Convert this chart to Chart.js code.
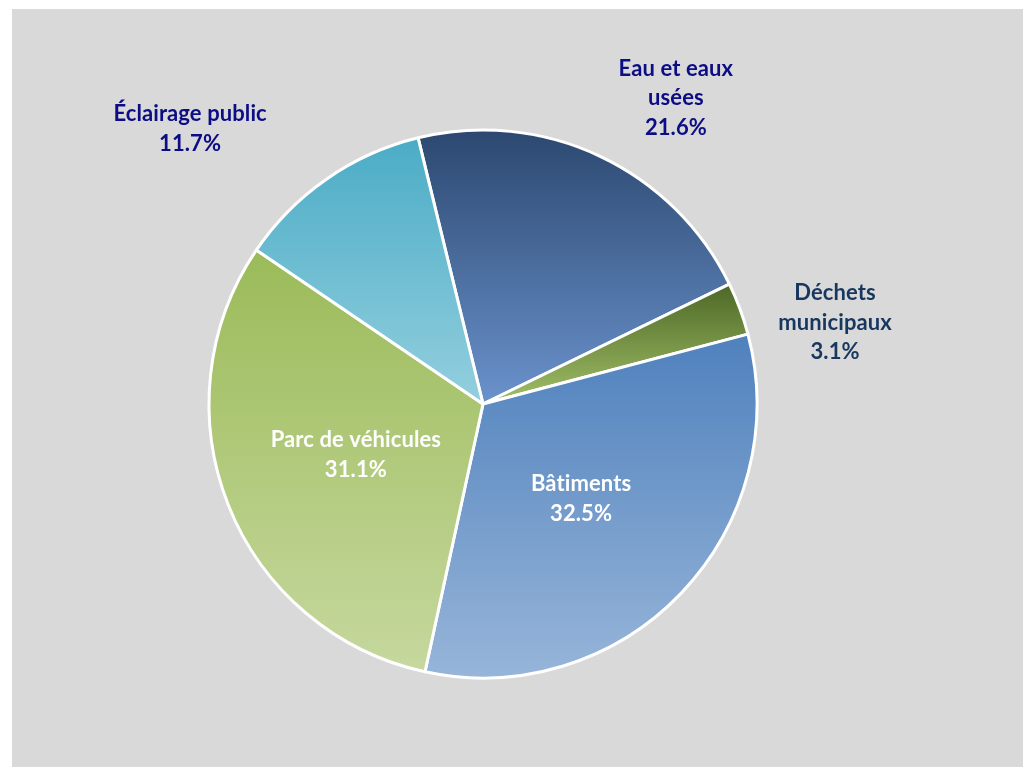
<!DOCTYPE html>
<html>
<head>
<meta charset="utf-8">
<script src="https://cdn.jsdelivr.net/npm/chart.js@4/dist/chart.umd.min.js"></script>
<style>
  html, body { margin: 0; padding: 0; background: #ffffff; }
  #wrap { width: 1025px; height: 767px; position: relative; }
</style>
</head>
<body>
<div id="wrap"><canvas id="c" width="1025" height="767"></canvas></div>
<script>
// Emission shares by sector (%)
const categories = ["Eau et eaux usées", "Déchets municipaux", "Bâtiments", "Parc de véhicules", "Éclairage public"];
const shares = [21.6, 3.1, 32.5, 31.1, 11.7];
// Label lines per slice
const labelLines = [
  ["Eau et eaux", "usées"],
  ["Déchets", "municipaux"],
  ["Bâtiments"],
  ["Parc de véhicules"],
  ["Éclairage public"]
];
// Vertical gradient stops for each slice (top, bottom)
const gradTop = ["#2c4870", "#4c6826", "#4f81bd", "#9bbb59", "#4bacc6"];
const gradBottom = ["#6a92cc", "#a2bf68", "#97b5d9", "#c6d89e", "#93cfde"];
// Label placement relative to the pie centre, in units of the radius
const labelOffsets = [[0.704, -1.117], [1.285, -0.296], [0.358, 0.347], [-0.464, 0.186], [-1.069, -1.004]];
const labelColors = ["#0c0c84", "#17375e", "#ffffff", "#ffffff", "#0c0c84"];

const panelBg = {
  id: "panelBg",
  beforeDraw(chart) {
    const ctx = chart.ctx;
    ctx.save();
    ctx.fillStyle = "#d9d9d9";
    ctx.fillRect(12, 9, 1011, 770);
    ctx.restore();
  }
};

// Per-slice vertical gradients spanning each arc's own vertical extent
const sliceGradients = {
  id: "sliceGradients",
  beforeDatasetsDraw(chart) {
    const meta = chart.getDatasetMeta(0);
    const ctx = chart.ctx;
    meta.data.forEach((arc, i) => {
      const { x, y, startAngle, endAngle, outerRadius } = arc.getProps(["x", "y", "startAngle", "endAngle", "outerRadius"], true);
      let ymin = y, ymax = y;
      const steps = 120;
      for (let k = 0; k <= steps; k++) {
        const a = startAngle + (endAngle - startAngle) * k / steps;
        const py = y + Math.sin(a) * outerRadius;
        ymin = Math.min(ymin, py);
        ymax = Math.max(ymax, py);
      }
      const g = ctx.createLinearGradient(0, ymin, 0, ymax);
      g.addColorStop(0, gradTop[i]);
      g.addColorStop(1, gradBottom[i]);
      arc.options.backgroundColor = g;
    });
  }
};

const sliceLabels = {
  id: "sliceLabels",
  afterDatasetsDraw(chart) {
    const meta = chart.getDatasetMeta(0);
    const ctx = chart.ctx;
    const arc0 = meta.data[0];
    const cx = arc0.x, cy = arc0.y, r = arc0.outerRadius;
    ctx.save();
    ctx.font = "bold 22px Lato, 'Open Sans', sans-serif";
    if ("letterSpacing" in ctx) ctx.letterSpacing = "0.1px"; // keeps "ti" from forming a ligature
    ctx.textAlign = "center";
    ctx.textBaseline = "middle";
    const lh = 29.5;
    shares.forEach((v, i) => {
      const lines = labelLines[i].concat([v.toFixed(1) + "%"]);
      const lx = cx + labelOffsets[i][0] * r;
      const ly = cy + labelOffsets[i][1] * r;
      ctx.fillStyle = labelColors[i];
      const y0 = ly - (lines.length - 1) * lh / 2;
      lines.forEach((t, j) => ctx.fillText(t, lx, y0 + j * lh));
    });
    ctx.restore();
  }
};

new Chart(document.getElementById("c"), {
  type: "pie",
  data: {
    labels: categories,
    datasets: [{
      data: shares,
      backgroundColor: gradTop,
      borderColor: "#ffffff",
      borderWidth: 3,
      borderAlign: "center"
    }]
  },
  options: {
    responsive: false,
    animation: false,
    rotation: -13.7,
    radius: 274,
    layout: { padding: { left: 0, right: 59, top: 41, bottom: 0 } },
    plugins: {
      legend: { display: false },
      tooltip: { enabled: false }
    }
  },
  plugins: [panelBg, sliceGradients, sliceLabels]
});
</script>
</body>
</html>
